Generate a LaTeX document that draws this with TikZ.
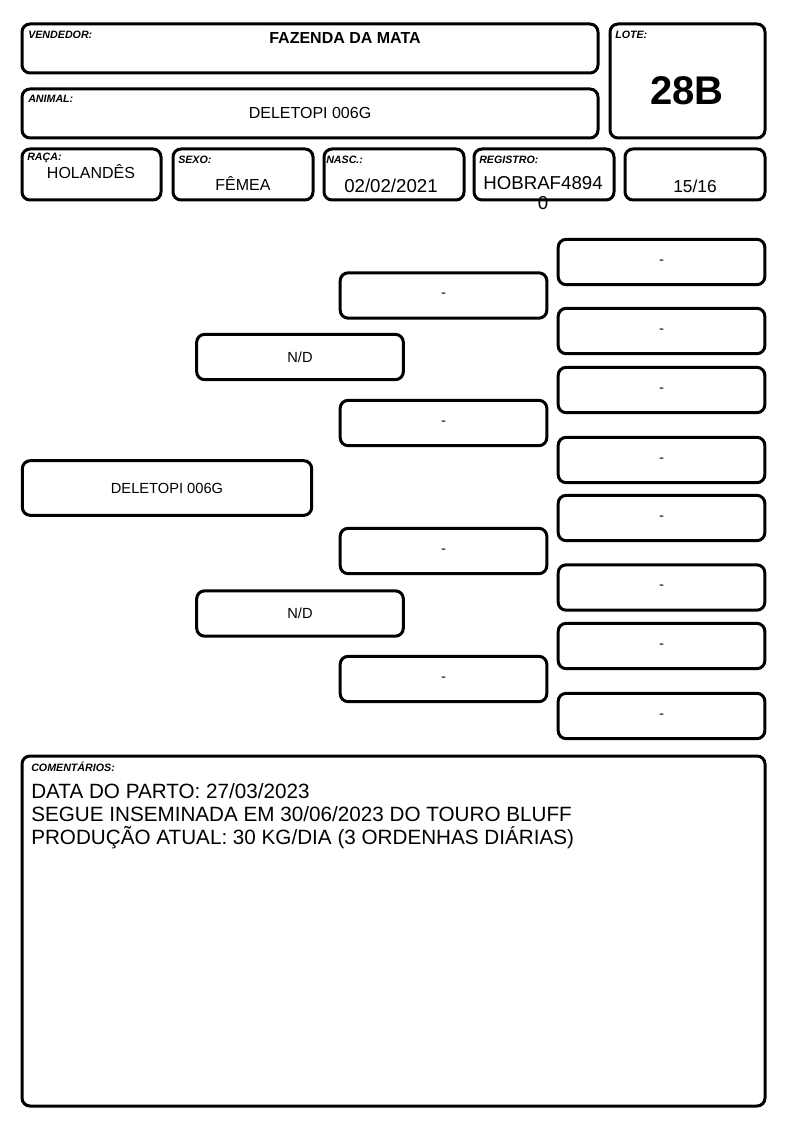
\documentclass[tikz,border=0pt]{standalone}
\usepackage{fontspec}
\setmainfont{Liberation Sans}
\usetikzlibrary{positioning}
\tikzstyle{bx}=[draw=black,line width=2.25pt,rounded corners=6pt]
\tikzstyle{lb}=[anchor=west,inner sep=0pt,font=\fontsize{8}{9}\selectfont\bfseries\itshape]
\tikzstyle{vl}=[inner sep=0pt,font=\fontsize{12}{14}\selectfont]
\tikzstyle{pd}=[bx,minimum width=155pt,minimum height=34pt,inner sep=0pt,font=\fontsize{11}{13}\selectfont]

\begin{document}
\begin{tikzpicture}[x=.75pt,y=-.75pt]
\useasboundingbox (0,0) rectangle (794,1123);
% cabecalho
\draw[bx] (22,24) rectangle (598,73);
\draw[bx] (22,89) rectangle (598,138);
\draw[bx] (610,24) rectangle (765,138);
\node[lb] (tvend) at (28,35) {VENDEDOR:};
\node[vl,font=\fontsize{12}{14}\selectfont\bfseries] (vend) at (345,38) {FAZENDA DA MATA};
\node[lb] (tanim) at (28,99) {ANIMAL:};
\node[vl] (anim) at (310,113) {DELETOPI 006G};
\node[lb] (tlote) at (615,35) {LOTE:};
\node[vl,font=\fontsize{30}{32}\selectfont\bfseries] (lote) at (687,91) {28B};
% linha de dados
\foreach \a/\b in {22/161,173/313,324/464,474/614,625/765}
  \draw[bx] (\a,149) rectangle (\b,200);
\node[lb] (traca) at (27,158) {RAÇA:};
\node[vl] (raca) at (91,172) {HOLANDÊS};
\node[lb] (tsexo) at (178,160) {SEXO:};
\node[vl] (sexo) at (243,184) {FÊMEA};
\node[lb] (tnasc) at (326,160) {NASC.:};
\node[vl,font=\fontsize{14}{16}\selectfont] (nasc) at (391,186) {02/02/2021};
\node[lb] (treg) at (479,160) {REGISTRO:};
\node[vl,font=\fontsize{14}{16}\selectfont,anchor=north,align=center] (reg) at (543,176) {HOBRAF4894\\[-1pt]0};
\node[vl,font=\fontsize{13}{15}\selectfont] (frac) at (695,186) {15/16};
% genealogia
\node[pd,minimum width=217pt,minimum height=41pt] (ani) at (167,488) {DELETOPI 006G};
\node[pd] (pai) at (300,357) {N/D};
\node[pd] (mae) at (300,613.5) {N/D};
\foreach \y [count=\i] in {295.5,423,551,679}
  \node[pd] (av\i) at (443.5,\y) {-};
\foreach \y [count=\i] in {262,331,390,460,518,587.5,646,716}
  \node[pd] (bv\i) at (661.5,\y) {-};
% comentarios
\draw[bx] (22,756) rectangle (765,1106);
\node[lb] (tcom) at (31,767) {COMENTÁRIOS:};
\node[anchor=north west,inner sep=0pt,align=left,font=\fontsize{15.5}{17.2}\selectfont] (com) at (31,783)
  {DATA DO PARTO: 27/03/2023\\SEGUE INSEMINADA EM 30/06/2023 DO TOURO BLUFF\\PRODUÇÃO ATUAL: 30 KG/DIA (3 ORDENHAS DIÁRIAS)};
\end{tikzpicture}
\end{document}
